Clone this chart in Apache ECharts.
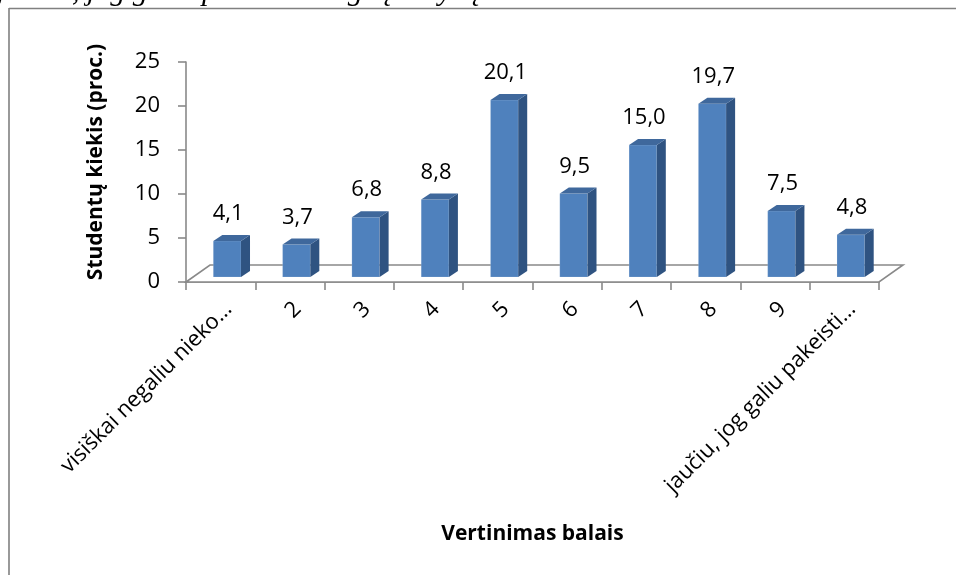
<!DOCTYPE html>
<html>
<head>
<meta charset="utf-8">
<script src="https://cdn.jsdelivr.net/npm/echarts@6/dist/echarts.min.js"></script>
<style>
html,body{margin:0;padding:0;background:#fff;}
#chart{width:956px;height:575px;}
</style>
</head>
<body>
<div id="chart"></div>
<script>
const categories = ['visiškai negaliu nieko…', '2', '3', '4', '5', '6', '7', '8', '9', 'jaučiu, jog galiu pakeisti…'];
const values = [4.1, 3.7, 6.8, 8.8, 20.1, 9.5, 15.0, 19.7, 7.5, 4.8];
const yTicks = [0, 5, 10, 15, 20, 25];
const yTitle = 'Studentų kiekis (proc.)';
const xTitle = 'Vertinimas balais';
const topText = 'jaučia, jog galia pakeisti daugelį dalykų.';

const FONT = '"Open Sans", sans-serif';
const GRAY = '#898989';
const FRONT = '#4F81BD', TOP = '#3F689C', SIDE = '#2F5381';
// depth geometry (pixels)
const FLOOR_DX = 24, FLOOR_DY = -17;
const BAR_OX = 6.5, BAR_OY = -5, BAR_DX = 9, BAR_DY = -6;

const chart = echarts.init(document.getElementById('chart'));

function floorItem(params, api) {
  const c0 = api.coord([0, 0]);
  const w = api.size([1, 0])[0];
  const n = categories.length;
  const xl = c0[0] - w / 2, xr = c0[0] - w / 2 + w * n, y = c0[1];
  return {
    type: 'polygon',
    shape: { points: [[xl, y], [xl + FLOOR_DX, y + FLOOR_DY], [xr + FLOOR_DX, y + FLOOR_DY], [xr, y]] },
    style: { fill: '#fff', stroke: GRAY, lineWidth: 1.6 },
    z2: 0
  };
}

function barItem(params, api) {
  const i = api.value(0), v = api.value(1);
  const b = api.coord([i, 0]);
  const t = api.coord([i, v]);
  const bw = api.size([1, 0])[0] * 0.40;
  const xL = b[0] + BAR_OX - bw / 2, xR = b[0] + BAR_OX + bw / 2;
  const yB = b[1] + BAR_OY, yT = t[1] + BAR_OY;
  return {
    type: 'group',
    children: [
      { type: 'rect', shape: { x: xL, y: yT, width: bw, height: yB - yT }, style: { fill: FRONT, stroke: 'rgba(255,255,255,0.25)', lineWidth: 0.6 } },
      { type: 'polygon', shape: { points: [[xR, yT], [xR + BAR_DX, yT + BAR_DY], [xR + BAR_DX, yB + BAR_DY], [xR, yB]] }, style: { fill: SIDE } },
      { type: 'polygon', shape: { points: [[xL, yT], [xL + BAR_DX, yT + BAR_DY], [xR + BAR_DX, yT + BAR_DY], [xR, yT]] }, style: { fill: TOP } },
      { type: 'text', style: { text: v.toFixed(1).replace('.', ','), x: (xL + xR) / 2 + 1, y: yT - 27, align: 'center', verticalAlign: 'middle', font: '22px ' + FONT, fill: '#000' } }
    ]
  };
}

chart.setOption({
  animation: false,
  grid: { left: 186, right: 77, top: 62, bottom: 293, containLabel: false },
  xAxis: {
    type: 'category',
    data: categories,
    boundaryGap: true,
    axisLine: { show: true, lineStyle: { color: GRAY, width: 1.6 } },
    axisTick: { show: true, length: 8, lineStyle: { color: GRAY, width: 1.6 } },
    axisLabel: { interval: 0, rotate: 45, margin: 16, verticalAlign: 'top', fontFamily: FONT, fontSize: 22, color: '#000' },
    name: xTitle,
    nameLocation: 'middle',
    nameGap: 242,
    nameTextStyle: { fontFamily: FONT, fontSize: 21, fontWeight: 'bold', color: '#000' }
  },
  yAxis: {
    type: 'value',
    min: yTicks[0],
    max: yTicks[yTicks.length - 1],
    interval: yTicks[1] - yTicks[0],
    axisLine: { show: true, lineStyle: { color: GRAY, width: 1.6 } },
    axisTick: { show: true, length: 8, lineStyle: { color: GRAY, width: 1.6 } },
    splitLine: { show: false },
    axisLabel: { margin: 26, fontFamily: FONT, fontSize: 22, color: '#000' },
    name: yTitle,
    nameLocation: 'middle',
    nameGap: 79,
    nameTextStyle: { fontFamily: FONT, fontSize: 21, fontWeight: 'bold', color: '#000', padding: [0, 0, 0, 20] }
  },
  series: [
    { type: 'custom', name: 'floor', renderItem: floorItem, data: [[0, 0]], z: 1, silent: true },
    { type: 'custom', name: 'bars', renderItem: barItem, data: values.map((v, i) => [i, v]), z: 3 }
  ],
  graphic: [
    { type: 'text', left: -3, top: -23, style: { text: topText, font: 'italic 30px "Liberation Serif", serif', fill: '#000' }, z: 0 },
    { type: 'line', shape: { x1: 9, y1: 8.5, x2: 956, y2: 8.5 }, style: { stroke: '#808080', lineWidth: 1.6 }, z: 10 },
    { type: 'line', shape: { x1: 9, y1: 8, x2: 9, y2: 575 }, style: { stroke: '#808080', lineWidth: 1.6 }, z: 10 }
  ]
});
</script>
</body>
</html>
